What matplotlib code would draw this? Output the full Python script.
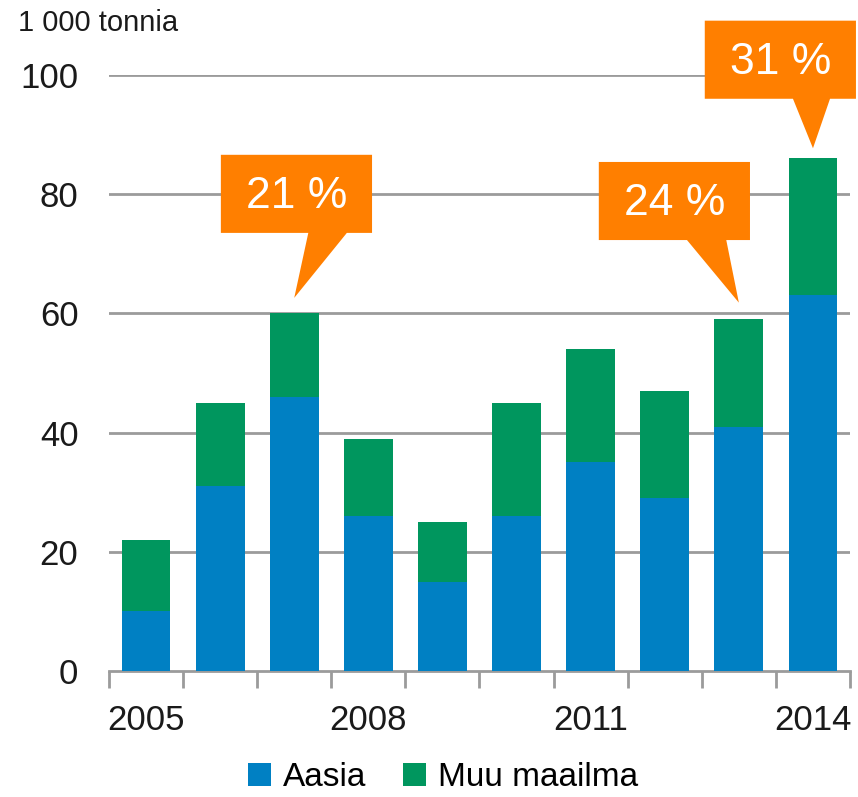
import matplotlib
matplotlib.use("Agg")
import matplotlib.pyplot as plt
from matplotlib.patches import Polygon
import numpy as np

years = [2005, 2006, 2007, 2008, 2009, 2010, 2011, 2012, 2013, 2014]
aasia = [10, 31, 46, 26, 15, 26, 35, 29, 41, 63]
muu_maailma = [12, 14, 14, 13, 10, 19, 19, 18, 18, 23]
year_labels = ["2005", "", "", "2008", "", "", "2011", "", "", "2014"]

# callouts: bar year, text
callout_years = [2007, 2013, 2014]
callout_texts = ["21 %", "24 %", "31 %"]

BLUE = "#0080C3"
GREEN = "#00965E"
ORANGE = "#FF7F00"
GRAY = "#9B9B9B"

plt.rcParams["font.family"] = ["Liberation Sans", "DejaVu Sans"]

fig = plt.figure(figsize=(8.58, 7.97), dpi=100)
ax = fig.add_axes([0.127, 0.158, 0.8637, 0.748])

x = np.arange(len(years))
totals = np.array(aasia) + np.array(muu_maailma)
ax.bar(x, aasia, width=0.66, color=BLUE, label="Aasia", zorder=3)
ax.bar(x, muu_maailma, width=0.66, bottom=aasia, color=GREEN, label="Muu maailma", zorder=3)

ax.set_xlim(-0.5, len(years) - 0.5)
ax.set_ylim(0, 100)
ax.set_yticks(range(0, 101, 20))
ax.set_yticklabels([str(v) for v in range(0, 101, 20)], fontsize=25, color="#1a1a1a")
ax.tick_params(axis="y", length=0, pad=22)
for v in range(20, 101, 20):
    ax.axhline(v, color=GRAY, lw=2, zorder=1)

ax.set_xticks(x)
ax.set_xticklabels(year_labels, fontsize=25, color="#1a1a1a")
ax.tick_params(axis="x", length=0, pad=24)
ax.set_xticks(np.arange(-0.5, len(years)), minor=True)
ax.tick_params(axis="x", which="minor", length=12, width=2, color=GRAY, direction="out")

for s in ["top", "right", "left"]:
    ax.spines[s].set_visible(False)
ax.spines["bottom"].set_color(GRAY)
ax.spines["bottom"].set_linewidth(2)

# speech-bubble callouts (box offsets relative to the bar they point at)
box_offsets = [(-0.99, 73.5, 0.19, 0.71), (-1.89, 72.3, -0.70, -0.17), (-1.46, 96.0, -0.27, 0.23)]
box_w, box_h = 2.04, 13.1
tip_gap = [2.6, 2.8, 1.7]
for yr, txt, (dx, yb, b0, b1), g in zip(callout_years, callout_texts, box_offsets, tip_gap):
    i = years.index(yr)
    left = i + dx
    pts = [(left, yb), (left, yb + box_h), (left + box_w, yb + box_h), (left + box_w, yb),
           (i + b1, yb), (i, totals[i] + g), (i + b0, yb)]
    ax.add_patch(Polygon(pts, closed=True, facecolor=ORANGE, edgecolor="none",
                         clip_on=False, zorder=5))
    ax.text(left + box_w / 2, yb + box_h / 2 - 0.5, txt, color="white", fontsize=32,
            ha="center", va="center", zorder=6, clip_on=False)

fig.text(0.021, 0.971, "1 000 tonnia", fontsize=21, color="#1a1a1a", va="center", ha="left")

fig.legend(loc="center", bbox_to_anchor=(0.516, 0.024), ncol=2, frameon=False,
           fontsize=24, handlelength=0.7, handleheight=0.7, handletextpad=0.35,
           columnspacing=1.1, borderaxespad=0, borderpad=0.1)

fig.savefig("out.png", dpi=100)
